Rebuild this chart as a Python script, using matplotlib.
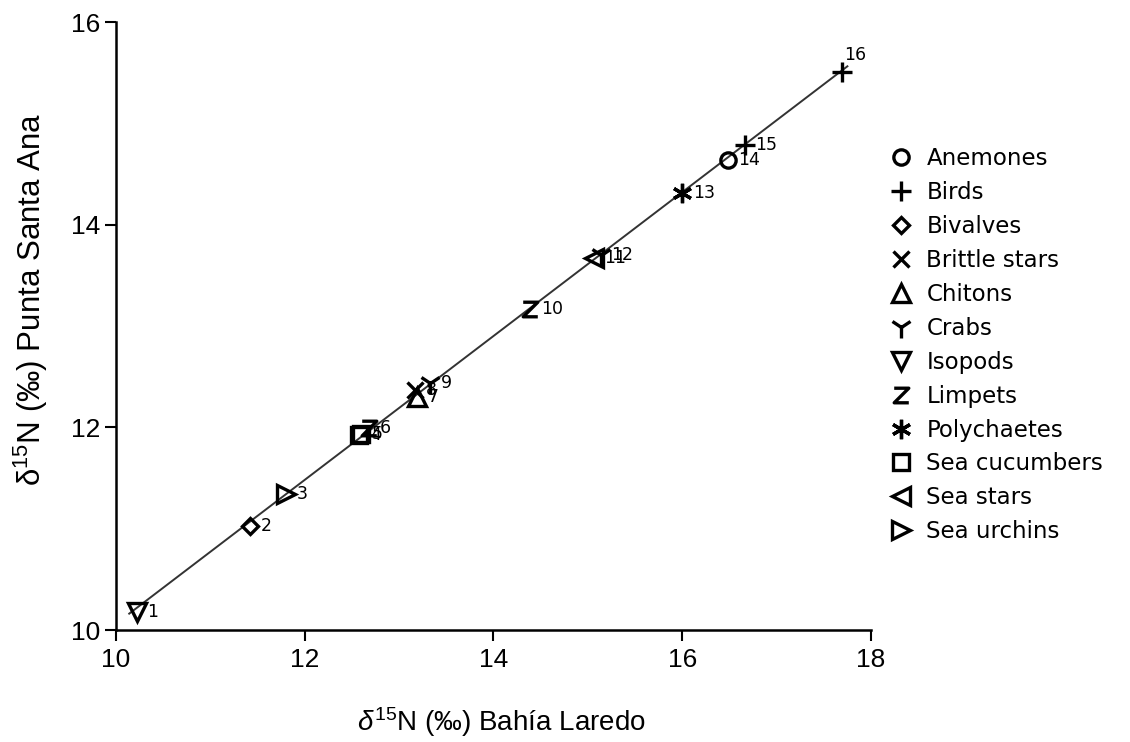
import numpy as np
import matplotlib
matplotlib.use("Agg")
import matplotlib.pyplot as plt
from matplotlib.path import Path
from matplotlib.lines import Line2D

plt.rcParams["mathtext.fontset"] = "custom"
plt.rcParams["mathtext.rm"] = "Liberation Sans"
plt.rcParams["mathtext.it"] = "Liberation Sans:italic"

# Data
ids = [str(i) for i in range(1, 17)]
groups = ["Isopods", "Bivalves", "Sea urchins", "Sea cucumbers", "Sea cucumbers",
          "Limpets", "Chitons", "Brittle stars", "Crabs", "Limpets",
          "Sea stars", "Crabs", "Polychaetes", "Anemones", "Birds", "Birds"]
bahia_laredo = [10.22, 11.42, 11.80, 12.58, 12.60, 12.68, 13.19, 13.17, 13.33, 14.39,
                15.06, 15.14, 16.00, 16.48, 16.66, 17.69]
punta_santa_ana = [10.18, 11.03, 11.34, 11.92, 11.93, 11.99, 12.30, 12.37, 12.44, 13.17,
                   13.67, 13.70, 14.31, 14.64, 14.79, 15.51]
legend_order = ["Anemones", "Birds", "Bivalves", "Brittle stars", "Chitons", "Crabs",
                "Isopods", "Limpets", "Polychaetes", "Sea cucumbers", "Sea stars", "Sea urchins"]

zpath = Path([(-1, 1), (1, 1), (-1, -1), (1, -1)],
             [Path.MOVETO, Path.LINETO, Path.LINETO, Path.LINETO])
markers = {
    "Anemones": ("o", 11), "Birds": ("+", 14), "Bivalves": ("D", 8.5),
    "Brittle stars": ("x", 11), "Chitons": ("^", 13), "Crabs": ("1", 16),
    "Isopods": ("v", 13), "Limpets": (zpath, 10.5), "Polychaetes": ((6, 2, 0), 14),
    "Sea cucumbers": ("s", 11), "Sea stars": ("<", 13), "Sea urchins": (">", 13),
}

fig = plt.figure(figsize=(11.3, 7.42), dpi=100)
ax = fig.add_axes([0.10265, 0.15094, 0.66814, 0.81941])

x = np.array(bahia_laredo)
y = np.array(punta_santa_ana)
coef = np.polyfit(x, y, 1)
xl = np.array([x.min() - 0.08, x.max() + 0.06])
ax.plot(xl, np.polyval(coef, xl), color="#333333", lw=1.4, zorder=1)

for i, g in enumerate(groups):
    m, s = markers[g]
    ax.plot(x[i], y[i], linestyle="none", marker=m, markersize=s,
            markerfacecolor="none", markeredgecolor="black", markeredgewidth=2.4, zorder=3)
    if ids[i] == "16":
        off = (2, 12)
    else:
        off = (7.5, 0)
    ax.annotate(ids[i], (x[i], y[i]), xytext=off, textcoords="offset points",
                ha="left", va="center", fontsize=12.5, family="DejaVu Sans")

ax.set_xlim(10, 18)
ax.set_ylim(10, 16)
ax.set_xticks([10, 12, 14, 16, 18])
ax.set_yticks([10, 12, 14, 16])
for sp in ["top", "right"]:
    ax.spines[sp].set_visible(False)
for sp in ["left", "bottom"]:
    ax.spines[sp].set_linewidth(1.8)
ax.tick_params(direction="out", length=8, width=1.5, labelsize=19)
ax.tick_params(axis="y", pad=3)
ax.tick_params(axis="x", pad=5)
for lab in ax.get_xticklabels() + ax.get_yticklabels():
    lab.set_family("Liberation Sans")

ax.set_xlabel(r"$\delta^{15}$N (‰) Bahía Laredo", fontsize=20, family="Liberation Sans")
ax.set_ylabel(r"δ$^{15}$N (‰) Punta Santa Ana", fontsize=22.5, family="Liberation Sans")
ax.xaxis.set_label_coords(0.511, -0.123)
ax.yaxis.set_label_coords(-0.088, 0.543)

handles = []
for g in legend_order:
    m, s = markers[g]
    handles.append(Line2D([], [], linestyle="none", marker=m, markersize=s,
                          markerfacecolor="none", markeredgecolor="black", markeredgewidth=2.4))
fig.legend(handles, legend_order, loc="upper left", bbox_to_anchor=(0.7788, 0.8167),
           frameon=False, prop={"family": "DejaVu Sans", "size": 16.5},
           handlelength=0.8, handletextpad=0.72, labelspacing=0.475, borderpad=0)

fig.savefig("out.png", dpi=100)
